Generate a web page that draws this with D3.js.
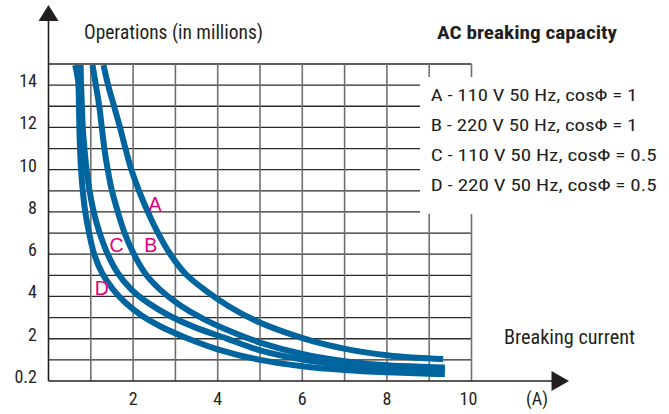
<!DOCTYPE html>
<html>
<head>
<meta charset="utf-8">
<script src="https://cdn.jsdelivr.net/npm/d3@7"></script>
<style>
  html, body { margin: 0; padding: 0; background: #fff; }
  svg { display: block; }
  .cond { font-family: "Liberation Sans Narrow", "Roboto Condensed", "DejaVu Sans Condensed", "Liberation Sans", sans-serif; font-stretch: condensed; fill: #231f20; }
</style>
</head>
<body>
<svg id="chart" width="669" height="414"></svg>
<script>
// ---- data ----
const xTicks = [2, 4, 6, 8, 10];
const xTickLabels = ["2", "4", "6", "8", "10"];
const yTicks = [0, 2, 4, 6, 8, 10, 12, 14];
const yTickLabels = ["0.2", "2", "4", "6", "8", "10", "12", "14"];
const curveNames = ["A", "B", "C", "D"];
const legendLabels = [
  "A - 110 V 50 Hz, cos\u03A6 = 1",
  "B - 220 V 50 Hz, cos\u03A6 = 1",
  "C - 110 V 50 Hz, cos\u03A6 = 0.5",
  "D - 220 V 50 Hz, cos\u03A6 = 0.5"
];
// [breaking current (A), operations (millions)]
const curveA = [[1.30,14.95],[1.41,14],[1.55,13],[1.69,12],[1.82,11],[1.96,10],[2.14,9],[2.35,8],[2.59,7],[2.88,6],[3.25,5.05],[3.7,4.3],[4.25,3.55],[4.9,2.85],[5.6,2.3],[6.4,1.8],[7.2,1.45],[8.0,1.22],[8.7,1.1],[9.33,1.04]];
const curveB = [[1.04,14.95],[1.12,14],[1.20,13],[1.26,12],[1.32,11],[1.40,10],[1.50,9],[1.64,8],[1.80,7],[2.02,6],[2.30,5.05],[2.65,4.3],[3.1,3.6],[3.65,2.95],[4.3,2.35],[5.0,1.82],[6.0,1.28],[7.0,0.94],[8.0,0.74],[9.0,0.66],[9.37,0.64]];
const curveC = [[0.76,14.95],[0.77,14],[0.79,13],[0.81,12],[0.85,11],[0.90,10],[0.97,9],[1.07,8],[1.21,7],[1.40,6],[1.64,5.1],[1.95,4.35],[2.35,3.7],[2.85,3.1],[3.45,2.55],[4.2,2.02],[5.0,1.45],[6.0,1.02],[7.0,0.76],[8.0,0.61],[9.0,0.53],[9.37,0.52]];
const curveD = [[0.63,14.95],[0.70,14.2],[0.72,13],[0.73,12],[0.745,11],[0.77,10],[0.81,9],[0.87,8],[0.96,7],[1.08,6],[1.27,5.1],[1.52,4.35],[1.82,3.7],[2.2,3.1],[2.65,2.58],[3.25,2.05],[4.0,1.5],[5.0,1.0],[6.0,0.7],[7.0,0.52],[8.0,0.41],[9.0,0.34],[9.37,0.33]];
const curveLabelPos = [[2.52,8.06],[2.42,6.09],[1.61,6.09],[1.26,4.07]]; // A, B, C, D label (centre x, baseline y)

// ---- layout ----
const svg = d3.select("#chart");
const x = d3.scaleLinear().domain([0, 10]).range([48.5, 471.5]);
const y = d3.scaleLinear().domain([0, 15]).range([381, 64]);
const blue = "#00659f";
const pink = "#e6007e";

// grid
const g = svg.append("g");
g.selectAll("line.h").data(d3.range(1, 16)).join("line")
  .attr("x1", x(0)).attr("x2", x(10))
  .attr("y1", d => y(d)).attr("y2", d => y(d))
  .attr("stroke", "#2a2a2a").attr("stroke-width", 1.3);
g.selectAll("line.v").data(d3.range(1, 11)).join("line")
  .attr("x1", d => x(d)).attr("x2", d => x(d))
  .attr("y1", y(0)).attr("y2", y(15))
  .attr("stroke", "#707070").attr("stroke-width", 1.6);

// white legend panel over the grid
svg.append("rect").attr("x", 420).attr("y", 77).attr("width", 249).attr("height", 137).attr("fill", "#fff");

// curves
const line = d3.line().x(d => x(d[0])).y(d => y(d[1])).curve(d3.curveCatmullRom.alpha(0.5));
[curveA, curveB, curveC, curveD].forEach(c => {
  svg.append("path").attr("d", line(c)).attr("fill", "none")
    .attr("stroke", blue).attr("stroke-width", 6).attr("stroke-linecap", "butt");
});

// curve letters
svg.selectAll("text.cl").data(curveNames).join("text")
  .attr("x", (d, i) => x(curveLabelPos[i][0]))
  .attr("y", (d, i) => y(curveLabelPos[i][1]))
  .attr("text-anchor", "middle")
  .attr("font-family", "'Liberation Sans', Arial, sans-serif")
  .attr("font-size", 19.5).attr("fill", pink)
  .text(d => d);

// axes
svg.append("line").attr("x1", x(0)).attr("x2", x(0)).attr("y1", y(0)).attr("y2", 20)
  .attr("stroke", "#231f20").attr("stroke-width", 1.6);
svg.append("line").attr("x1", x(0)).attr("x2", 553).attr("y1", y(0)).attr("y2", y(0))
  .attr("stroke", "#231f20").attr("stroke-width", 1.6);
svg.append("path").attr("d", `M${x(0)},5 L${x(0) - 10},21 L${x(0) + 10},21 Z`).attr("fill", "#231f20");
svg.append("path").attr("d", `M569,${y(0)} L551.5,${y(0) - 10} L551.5,${y(0) + 10} Z`).attr("fill", "#231f20");

// y tick labels
svg.selectAll("text.yt").data(yTicks).join("text").attr("class", "cond")
  .attr("x", 37).attr("y", d => y(d) + 2)
  .attr("text-anchor", "end").attr("font-size", 18)
  .text((d, i) => yTickLabels[i]);

// x tick labels
svg.selectAll("text.xt").data(xTicks).join("text").attr("class", "cond")
  .attr("x", d => x(d) - (d === 10 ? 3 : 0)).attr("y", 405)
  .attr("text-anchor", "middle").attr("font-size", 18)
  .text((d, i) => xTickLabels[i]);
svg.append("text").attr("class", "cond").attr("x", 537).attr("y", 405)
  .attr("text-anchor", "middle").attr("font-size", 18).text("(A)");

// titles
svg.append("text").attr("class", "cond").attr("x", 84).attr("y", 39)
  .attr("font-size", 19.5).attr("textLength", 179).attr("lengthAdjust", "spacingAndGlyphs")
  .text("Operations (in millions)");
svg.append("text").attr("class", "cond").attr("x", 437).attr("y", 38.5)
  .attr("font-size", 18.5).attr("font-weight", "bold").attr("textLength", 180).attr("lengthAdjust", "spacingAndGlyphs")
  .text("AC breaking capacity");
svg.append("text").attr("class", "cond").attr("x", 504).attr("y", 343.5)
  .attr("font-size", 19.5).attr("textLength", 131).attr("lengthAdjust", "spacingAndGlyphs")
  .text("Breaking current");

// legend
const legendW = [206.5, 206.5, 226, 226];
svg.selectAll("text.lg").data(legendLabels).join("text").attr("class", "cond")
  .attr("x", 430.7).attr("y", (d, i) => 100.7 + i * 30)
  .attr("font-size", 16.5).attr("textLength", (d, i) => legendW[i]).attr("lengthAdjust", "spacingAndGlyphs")
  .text(d => d);
</script>
</body>
</html>
